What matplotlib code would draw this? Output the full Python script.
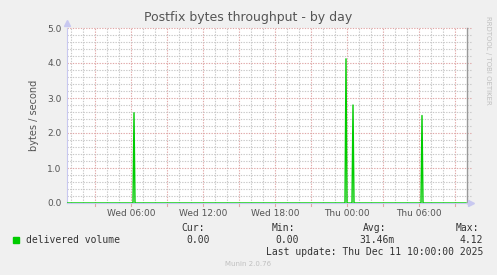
import matplotlib
matplotlib.use("Agg")
import matplotlib.pyplot as plt
import numpy as np

# hours since Wed 00:00
spike_hours = [6.25, 23.92, 24.50, 30.25]
spike_values = [2.58, 4.12, 2.80, 2.50]
tick_hours = [6, 12, 18, 24, 30]
tick_labels = ["Wed 06:00", "Wed 12:00", "Wed 18:00", "Thu 00:00", "Thu 06:00"]
x_start, x_end = 0.667, 34.0

# 5-minute samples, zero except the spikes
t = np.arange(x_start, x_end + 1e-9, 5 / 60)
v = np.zeros_like(t)
for h, val in zip(spike_hours, spike_values):
    v[np.argmin(np.abs(t - h))] = val

W, H = 497, 275
fig = plt.figure(figsize=(W / 100, H / 100), dpi=100, facecolor="#f0f0f0")
ax = fig.add_axes([67 / W, (H - 203) / H, 400 / W, 175 / H])
ax.set_facecolor("white")

# grid: minor every hour / 0.2, major every 3 hours / 1.0
minor_c, major_c = "#c8c8c8", "#e0a8a8"
for h in np.arange(1, 34, 1):
    col = major_c if h % 3 == 0 else minor_c
    ax.axvline(h, color=col, lw=0.8, ls=(0, (1.2, 1.2)), zorder=1)
    if h % 3 == 0:
        ax.plot([h, h], [-0.08, 0], color=major_c, lw=0.8, clip_on=False, zorder=1)
for y in np.arange(0.2, 5.01, 0.2):
    major = abs(y - round(y)) < 1e-6
    ax.plot([x_start, x_end + 0.4], [y, y], color=major_c if major else minor_c, lw=0.8,
            ls=(0, (1.2, 1.2)), zorder=1, clip_on=False)

ax.plot(t, v, color="#00cc00", lw=1.0, zorder=3)

ax.set_xlim(x_start, x_end)
ax.set_ylim(0, 5.0)
ax.set_xticks(tick_hours)
ax.set_xticklabels(tick_labels)
ax.set_yticks([0, 1, 2, 3, 4, 5])
ax.set_yticklabels(["0.0", "1.0", "2.0", "3.0", "4.0", "5.0"])
ax.tick_params(length=0, labelsize=6.5, colors="#555555", pad=4)
for s in ["top", "right"]:
    ax.spines[s].set_visible(False)
ax.spines["left"].set_color("#c8c8f0")
ax.spines["bottom"].set_color("#c8c8f0")
ax.spines["left"].set_linewidth(0.8)
ax.spines["bottom"].set_linewidth(0.8)
# right frame line
ax.plot([1, 1], [0, 1], transform=ax.transAxes, color="#999999", lw=1, clip_on=False)
# arrows
ax.plot([0], [1.03], marker="^", ms=4, color="#c8c8f0", transform=ax.transAxes, clip_on=False)
ax.plot([1.01], [0], marker=">", ms=4, color="#c8c8f0", transform=ax.transAxes, clip_on=False)

ax.set_ylabel("bytes / second", fontsize=7, color="#555555", labelpad=6)

fig.text(248 / W, 1 - 18 / H, "Postfix bytes throughput - by day", ha="center", va="center",
         fontsize=9, color="#555555")
fig.text(488 / W, 1 - 60 / H, "RRDTOOL / TOBI OETIKER", rotation=270, ha="center", va="center",
         fontsize=5, color="#c0c0c0")

mono = "DejaVu Sans Mono"
fs = 7
fig.patches.append(plt.Rectangle((13 / W, 1 - 243 / H), 6 / W, 6 / H, transform=fig.transFigure,
                                 color="#00cc00"))
fig.text(26 / W, 1 - 240 / H, "delivered volume", family=mono, fontsize=fs, color="#333333", va="center")
fig.text(193 / W, 1 - 228 / H, "Cur:", family=mono, fontsize=fs, color="#333333", va="center", ha="center")
fig.text(210 / W, 1 - 240 / H, "0.00", family=mono, fontsize=fs, color="#333333", va="center", ha="right")
fig.text(283 / W, 1 - 228 / H, "Min:", family=mono, fontsize=fs, color="#333333", va="center", ha="center")
fig.text(299 / W, 1 - 240 / H, "0.00", family=mono, fontsize=fs, color="#333333", va="center", ha="right")
fig.text(375 / W, 1 - 228 / H, "Avg:", family=mono, fontsize=fs, color="#333333", va="center", ha="center")
fig.text(395 / W, 1 - 240 / H, "31.46m", family=mono, fontsize=fs, color="#333333", va="center", ha="right")
fig.text(467 / W, 1 - 228 / H, "Max:", family=mono, fontsize=fs, color="#333333", va="center", ha="center")
fig.text(483 / W, 1 - 240 / H, "4.12", family=mono, fontsize=fs, color="#333333", va="center", ha="right")
fig.text(483 / W, 1 - 252 / H, "Last update: Thu Dec 11 10:00:00 2025", family=mono, fontsize=fs,
         color="#333333", va="center", ha="right")
fig.text(248 / W, 1 - 264 / H, "Munin 2.0.76", fontsize=5, color="#c0c0c0", va="center", ha="center")

fig.savefig("out.png", dpi=100, facecolor=fig.get_facecolor())
